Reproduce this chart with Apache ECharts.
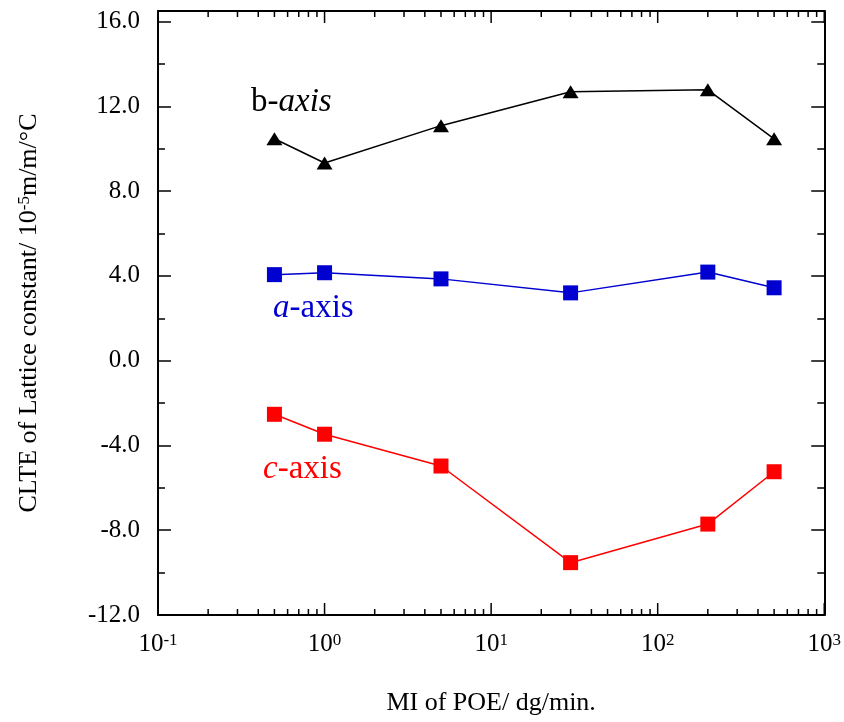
<!DOCTYPE html>
<html><head><meta charset="utf-8">
<script src="https://cdn.jsdelivr.net/npm/echarts@6/dist/echarts.min.js"></script>
<style>html,body{margin:0;padding:0;background:#fff}#c{width:844px;height:722px}</style>
</head><body><div id="c"></div>
<script>
// ---- data ----
const mi = [0.5, 1, 5, 30, 200, 500];
const bAxis = [10.47, 9.33, 11.09, 12.69, 12.78, 10.47];
const aAxis = [4.06, 4.15, 3.86, 3.20, 4.18, 3.44];
const cAxis = [-2.53, -3.47, -4.97, -9.53, -7.71, -5.24];
const xRange = [0.1, 1000];
const yRange = [-12, 16.5];
const yMajor = 4;
const yMinor = 2;
const xMajorTicks = [0.1, 1, 10, 100, 1000];
const xMinorTicks = [0.2,0.3,0.4,0.5,0.6,0.7,0.8,0.9, 2,3,4,5,6,7,8,9, 20,30,40,50,60,70,80,90, 200,300,400,500,600,700,800,900];
const xTitle = 'MI of POE/ dg/min.';
const yTitle = 'CLTE of Lattice constant/ 10{s|-5}m/m/°C';

const FONT = "'Liberation Serif','Times New Roman',serif";
const chart = echarts.init(document.getElementById('c'));
const pair = (xs, ys) => xs.map((x, i) => [x, ys[i]]);

const axisLineStyle = {show: true, onZero: false, lineStyle: {color: '#000', width: 2}};
const yBase = {type: 'value', min: yRange[0], max: yRange[1], splitLine: {show: false}};

function tickSeries(values, len, w) {
  return {type: 'custom', xAxisIndex: 0, yAxisIndex: 0, silent: true, clip: false, z: 5,
    data: values.map(v => [v, yRange[0]]),
    renderItem: (params, api) => {
      const v = api.value(0);
      const pb = api.coord([v, yRange[0]]);
      const pt = api.coord([v, yRange[1]]);
      const st = {stroke: '#000', lineWidth: w};
      return {type: 'group', children: [
        {type: 'line', shape: {x1: pb[0], y1: pb[1], x2: pb[0], y2: pb[1] - len}, style: st},
        {type: 'line', shape: {x1: pt[0], y1: pt[1], x2: pt[0], y2: pt[1] + len}, style: st}
      ]};
    }};
}

const option = {
  backgroundColor: '#fff',
  animation: false,
  grid: {left: 158, right: 19, top: 11, bottom: 107, containLabel: false},
  xAxis: [
    {type: 'log', logBase: 10, min: xRange[0], max: xRange[1], position: 'bottom',
     axisLine: axisLineStyle,
     axisTick: {show: false},
     splitLine: {show: false},
     axisLabel: {margin: 17, color: '#000',
       formatter: v => '{b|10}{s|' + Math.round(Math.log10(v)) + '}',
       rich: {b: {fontSize: 25, fontFamily: FONT, color: '#000'},
              s: {fontSize: 17, fontFamily: FONT, color: '#000', verticalAlign: 'top'}}},
     name: xTitle, nameLocation: 'middle', nameGap: 75,
     nameTextStyle: {fontSize: 26, fontFamily: FONT, color: '#000'}},
    {type: 'log', logBase: 10, min: xRange[0], max: xRange[1], position: 'top',
     axisLine: axisLineStyle,
     axisTick: {show: false},
     splitLine: {show: false}, axisLabel: {show: false}}
  ],
  yAxis: [
    Object.assign({}, yBase, {position: 'left', interval: yMajor,
     axisLine: axisLineStyle,
     axisTick: {show: true, inside: true, length: 13, lineStyle: {color: '#000', width: 1.5}},
     axisLabel: {margin: 18, color: '#000', fontSize: 25, fontFamily: FONT, showMaxLabel: false,
       formatter: v => v.toFixed(1)},
     name: yTitle, nameLocation: 'middle', nameGap: 116, nameRotate: 90,
     nameTextStyle: {fontSize: 26, fontFamily: FONT, color: '#000',
       rich: {s: {fontSize: 17, fontFamily: FONT, color: '#000', verticalAlign: 'top'}}}}),
    Object.assign({}, yBase, {position: 'right', interval: yMajor,
     axisLine: axisLineStyle,
     axisTick: {show: true, inside: true, length: 13, lineStyle: {color: '#000', width: 1.5}},
     axisLabel: {show: false}}),
    Object.assign({}, yBase, {position: 'left', interval: yMinor,
     axisLine: {show: false},
     axisTick: {show: true, inside: true, length: 7, lineStyle: {color: '#000', width: 1.5}},
     axisLabel: {show: false}}),
    Object.assign({}, yBase, {position: 'right', interval: yMinor,
     axisLine: {show: false},
     axisTick: {show: true, inside: true, length: 7, lineStyle: {color: '#000', width: 1.5}},
     axisLabel: {show: false}})
  ],
  series: [
    tickSeries(xMinorTicks, 6, 1.5),
    tickSeries(xMajorTicks, 12, 1.5),
    {name: 'b-axis', type: 'line', data: pair(mi, bAxis), symbol: 'triangle', symbolSize: [16, 13],
     lineStyle: {color: '#000', width: 1.5}, itemStyle: {color: '#000'}, z: 3},
    {name: 'a-axis', type: 'line', data: pair(mi, aAxis), symbol: 'rect', symbolSize: 15,
     lineStyle: {color: '#0000d0', width: 1.5}, itemStyle: {color: '#0000d0'}, z: 3},
    {name: 'c-axis', type: 'line', data: pair(mi, cAxis), symbol: 'rect', symbolSize: 15,
     lineStyle: {color: '#ff0000', width: 1.5}, itemStyle: {color: '#ff0000'}, z: 3}
  ],
  graphic: [
    {type: 'text', left: 251, top: 86, style: {text: 'b-{i|axis}', fill: '#000', fontSize: 33, fontFamily: FONT,
      rich: {i: {fontStyle: 'italic', fontSize: 33, fontFamily: FONT, fill: '#000'}}}},
    {type: 'text', left: 273, top: 292, style: {text: '{i|a}-axis', fill: '#0000d0', fontSize: 33, fontFamily: FONT,
      rich: {i: {fontStyle: 'italic', fontSize: 33, fontFamily: FONT, fill: '#0000d0'}}}},
    {type: 'text', left: 263, top: 453, style: {text: '{i|c}-axis', fill: '#ff0000', fontSize: 33, fontFamily: FONT,
      rich: {i: {fontStyle: 'italic', fontSize: 33, fontFamily: FONT, fill: '#ff0000'}}}}
  ]
};
chart.setOption(option);
</script></body></html>
